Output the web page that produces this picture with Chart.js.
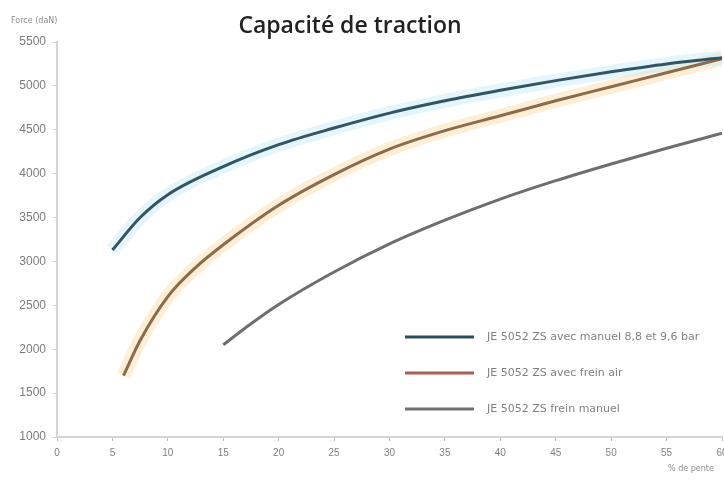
<!DOCTYPE html>
<html>
<head>
<meta charset="utf-8">
<script src="https://cdn.jsdelivr.net/npm/chart.js@4/dist/chart.umd.min.js"></script>
<style>
  html, body { margin: 0; padding: 0; background: #fff; }
  #wrap { width: 724px; height: 481px; }
</style>
</head>
<body>
<div id="wrap"><canvas id="tractionChart" width="724" height="481"></canvas></div>
<script>
// pente (%) et force de traction
const penteBleu = [5, 7.5, 10, 15, 20, 25, 30, 35, 40, 45, 50, 55, 60];
const forceBleu = [3130, 3500, 3760, 4080, 4330, 4520, 4690, 4830, 4950, 5060, 5160, 5250, 5320];

const penteOrange = [6, 7.5, 10, 12.5, 15, 20, 25, 30, 35, 40, 45, 50, 55, 60];
const forceOrange = [1700, 2100, 2600, 2930, 3190, 3640, 3990, 4280, 4490, 4660, 4830, 4990, 5150, 5310];

const penteGris = [15, 17.5, 20, 25, 30, 35, 40, 45, 50, 55, 60];
const forceGris = [2050, 2290, 2510, 2880, 3200, 3470, 3710, 3920, 4110, 4290, 4460];

const labels = [
  'JE 5052 ZS avec manuel 8,8 et 9,6 bar',
  'JE 5052 ZS avec frein air',
  'JE 5052 ZS frein manuel',
];

const xTicks = [0, 5, 10, 15, 20, 25, 30, 35, 40, 45, 50, 55, 60];
const yTicks = [1000, 1500, 2000, 2500, 3000, 3500, 4000, 4500, 5000, 5500];

const toPoints = (xs, ys) => xs.map((x, i) => ({ x, y: ys[i] }));

// legende dans la zone du graphique + textes des axes
const extras = {
  id: 'extras',
  afterDraw(chart) {
    const { ctx } = chart;
    ctx.save();
    ctx.fillStyle = '#222';
    ctx.font = '600 23px "Open Sans"';
    ctx.textAlign = 'center';
    ctx.textBaseline = 'alphabetic';
    ctx.fillText('Capacité de traction', 350, 33);

    ctx.fillStyle = '#8a8a8a';
    ctx.font = '8px "DejaVu Sans"';
    ctx.textAlign = 'left';
    ctx.fillText('Force (daN)', 11, 23);
    ctx.fillText('% de pente', 668, 471);

    let y = 337;
    chart.data.datasets.forEach((ds) => {
      if (!ds.legend) return;
      ctx.strokeStyle = ds.legendColor;
      ctx.lineWidth = 3;
      ctx.beginPath();
      ctx.moveTo(405, y);
      ctx.lineTo(474, y);
      ctx.stroke();
      ctx.fillStyle = '#808080';
      ctx.font = '11px "DejaVu Sans"';
      ctx.textBaseline = 'middle';
      ctx.fillText(ds.label, 487, y);
      y += 36;
    });
    ctx.restore();
  },
};

const config = {
  type: 'line',
  data: {
    datasets: [
      { label: 'halo bleu', data: toPoints(penteBleu, forceBleu), borderColor: 'rgba(205,237,248,0.55)', borderWidth: 14, order: 10 },
      { label: 'halo orange', data: toPoints(penteOrange, forceOrange), borderColor: 'rgba(253,224,178,0.55)', borderWidth: 14, order: 10 },
      { label: labels[0], data: toPoints(penteBleu, forceBleu), borderColor: '#2f5566', borderWidth: 3, order: 1, legend: true, legendColor: '#2b4e5e' },
      { label: labels[1], data: toPoints(penteOrange, forceOrange), borderColor: '#8c6a4a', borderWidth: 3, order: 1, legend: true, legendColor: '#ab5f50' },
      { label: labels[2], data: toPoints(penteGris, forceGris), borderColor: '#6e6e6e', borderWidth: 3, order: 1, legend: true, legendColor: '#707070' },
    ],
  },
  options: {
    responsive: false,
    animation: false,
    events: [],
    elements: {
      point: { radius: 0 },
      line: { tension: 0.4, cubicInterpolationMode: 'monotone', fill: false },
    },
    layout: { padding: { top: 42, left: 0, right: 2, bottom: 0 } },
    plugins: {
      legend: { display: false },
      title: { display: false },
      tooltip: { enabled: false },
    },
    scales: {
      x: {
        type: 'linear',
        min: 0,
        max: 60,
        afterBuildTicks(scale) { scale.ticks = xTicks.map((v) => ({ value: v })); },
        afterFit(scale) { scale.height = 44; scale.paddingLeft = 0; scale.paddingRight = 0; },
        grid: { display: true, drawOnChartArea: false, tickLength: 4, color: '#bdbdbd' },
        border: { display: true, color: '#d4d4d4', width: 2 },
        ticks: { padding: 6, color: '#808080', font: { family: 'Liberation Sans', size: 10 }, callback: (v) => String(v) },
      },
      y: {
        min: 1000,
        max: 5500,
        afterBuildTicks(scale) { scale.ticks = yTicks.map((v) => ({ value: v })); },
        afterFit(scale) { scale.width = 57; scale.paddingTop = 0; scale.paddingBottom = 0; },
        grid: { display: true, drawOnChartArea: false, tickLength: 4, color: '#d0d0d0' },
        border: { display: true, color: '#d4d4d4', width: 2 },
        ticks: { padding: 7, color: '#7a7a7a', font: { family: 'Liberation Sans', size: 12 }, callback: (v) => String(v) },
      },
    },
  },
  plugins: [extras],
};

const canvas = document.getElementById('tractionChart');
const myChart = new Chart(canvas.getContext('2d'), config);
canvas.chart = myChart;
</script>
</body>
</html>
